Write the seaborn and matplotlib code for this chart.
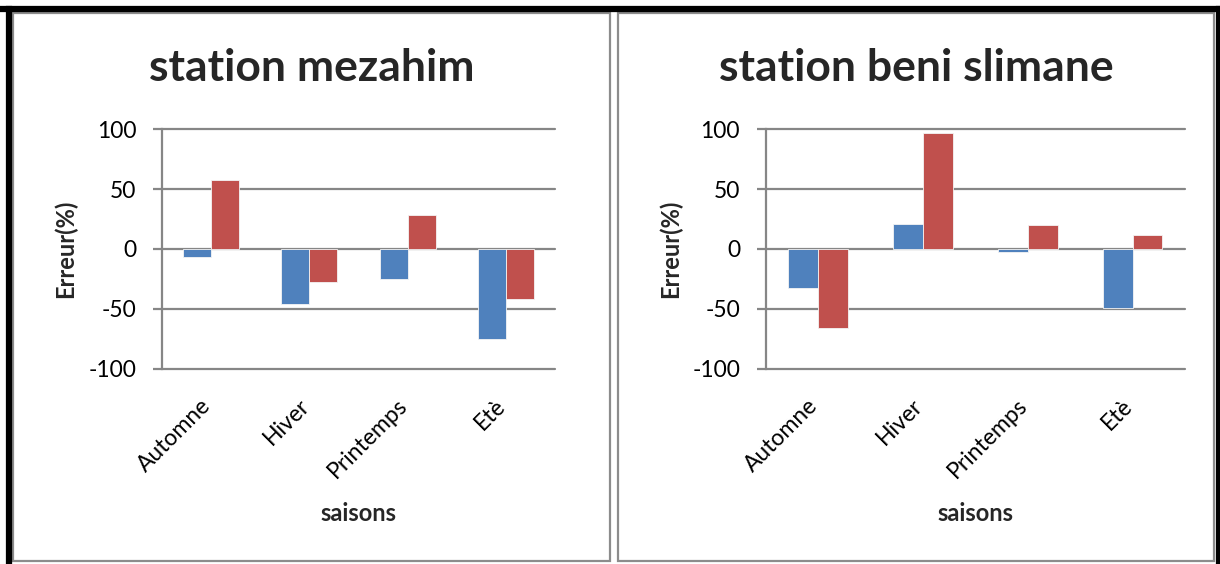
import matplotlib
matplotlib.use("Agg")
import matplotlib.pyplot as plt
import matplotlib.transforms as mtransforms
import seaborn as sns
import pandas as pd
from matplotlib.lines import Line2D
from matplotlib.patches import Rectangle

# Seasonal error (%) of two series at two stations
saisons = ["Automne", "Hiver", "Printemps", "Etè"]
series = ["Série1", "Série2"]
mezahim_s1 = [-7, -46, -25, -75]
mezahim_s2 = [58, -28, 28, -42]
beni_slimane_s1 = [-33, 21, -3, -49]
beni_slimane_s2 = [-66, 97, 20, 12]
yticks = [-100, -50, 0, 50, 100]

stations = [
    ("station mezahim", mezahim_s1, mezahim_s2),
    ("station beni slimane", beni_slimane_s1, beni_slimane_s2),
]

sns.set_theme(style="white")
plt.rcParams["font.family"] = ["Lato", "DejaVu Sans"]

W, H = 1220, 564
fig = plt.figure(figsize=(W / 100, H / 100), dpi=100)
fig.patch.set_facecolor("white")

GRID = "#868686"
palette = {"Série1": "#4F81BD", "Série2": "#C0504D"}
TICK_FS = 16.5
LABEL_FS = 17


def fx(px):
    return px / W


def fy(py):
    return 1 - py / H


# outer frame and the two chart boxes
for x0, y0, x1, y1 in [(13, 13, 610, 561), (618, 13, 1214, 561)]:
    fig.add_artist(Rectangle((fx(x0), fy(y1)), fx(x1) - fx(x0), fy(y0) - fy(y1),
                             transform=fig.transFigure, fill=False,
                             edgecolor="#8c8c8c", linewidth=1.6))
for xs, ys in [((0, 1), (fy(9), fy(9))), ((fx(9), fx(9)), (0, fy(9))),
               ((fx(1218.5), fx(1218.5)), (0, fy(9)))]:
    fig.add_artist(Line2D(xs, ys, transform=fig.transFigure, color="black",
                          linewidth=4.5, solid_capstyle="projecting"))

axes_px = [(162, 555), (765.7, 1185)]
top_px, bot_px = 129.3, 368.5
panel_centres = [311.5, 916]
ylabel_x = [65, 670]
shift = mtransforms.ScaledTranslation(-11 / 100, 0, fig.dpi_scale_trans)

for (title, s1, s2), (l, r), pc, ylx in zip(stations, axes_px, panel_centres, ylabel_x):
    ax = fig.add_axes([fx(l), fy(bot_px), fx(r) - fx(l), fy(top_px) - fy(bot_px)])
    df = pd.DataFrame({
        "saison": saisons * 2,
        "serie": [series[0]] * 4 + [series[1]] * 4,
        "erreur": list(s1) + list(s2),
    })
    sns.barplot(data=df, x="saison", y="erreur", hue="serie", order=saisons,
                hue_order=series, palette=palette, saturation=1, width=0.57,
                gap=0, edgecolor="#f4f4f4", linewidth=0.6, errorbar=None,
                ax=ax, legend=False, zorder=3)
    ax.set_xlim(-0.5, 3.5)
    ax.set_ylim(-100, 100)
    ax.set_yticks(yticks)
    ax.set_yticklabels([str(v) for v in yticks])
    for v in yticks:
        ax.axhline(v, color=GRID, linewidth=1.6, zorder=1, clip_on=False)
    for side in ["top", "right", "bottom"]:
        ax.spines[side].set_visible(False)
    ax.spines["left"].set_color(GRID)
    ax.spines["left"].set_linewidth(1.6)
    ax.tick_params(axis="y", which="major", direction="out", length=6.5,
                   width=1.6, color=GRID, pad=12, labelsize=TICK_FS,
                   labelcolor="black", left=True)
    ax.tick_params(axis="x", length=0, pad=19, labelsize=TICK_FS,
                   labelcolor="black")
    for lab in ax.get_xticklabels():
        lab.set_rotation(45)
        lab.set_ha("right")
        lab.set_va("top")
        lab.set_rotation_mode("anchor")
        lab.set_transform(lab.get_transform() + shift)
    ax.set_xlabel("")
    ax.set_ylabel("")
    ax.set_facecolor("none")

    fig.text(fx(pc), fy(81), title, ha="center", va="baseline",
             fontsize=32, fontweight="bold")
    fig.text(fx(ylx), fy(249), "Erreur(%)", rotation=90, ha="center",
             va="center", fontsize=LABEL_FS, fontweight="bold")
    fig.text(fx((l + r) / 2), fy(521), "saisons", ha="center", va="baseline",
             fontsize=LABEL_FS, fontweight="bold")

fig.savefig("out.png", dpi=100, facecolor="white")
